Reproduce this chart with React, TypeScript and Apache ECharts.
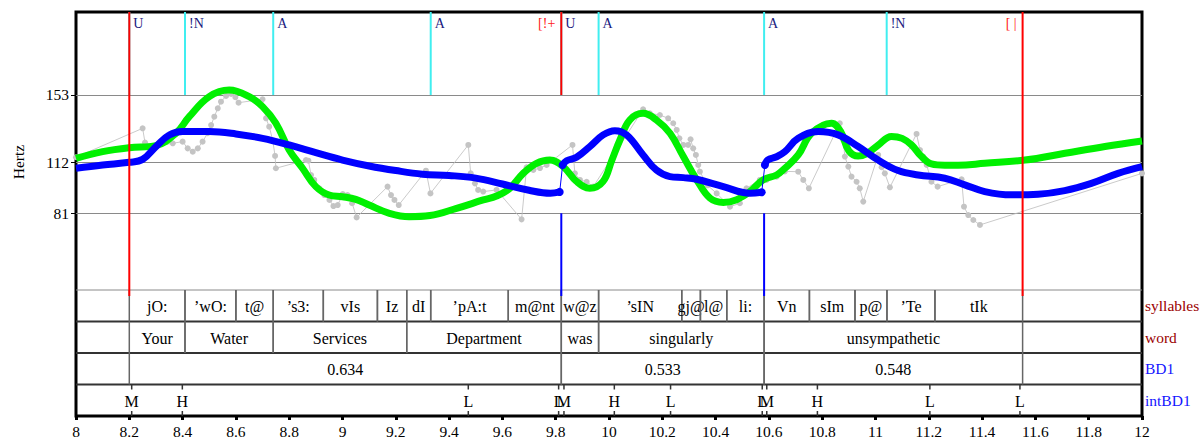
import React, { useEffect, useRef } from "react";
import * as echarts from "echarts";

// ---------- data ----------
const pitchTicks = [81, 112, 153];
const toneFloor = 153;

const toneTimes = [8.2, 8.409, 8.74, 9.331, 9.821, 9.961, 10.582, 11.042];
const toneLabels = ["U", "!N", "A", "A", "U", "A", "A", "!N"];

const boundaryTimes = [8.2, 9.821, 11.552];
const boundaryLabels = ["", "[!+", "[ |"];
const boundaryThrough = [true, false, true];

const breakTimes = [9.821, 10.582];
const breakFloor = 81;

const rawPitch: number[][] = [
  [8.0, 115.1], [8.25, 132.7], [8.259, 124.0], [8.3, 122.0], [8.363, 123.6], [8.4, 124.6],
  [8.419, 120.5], [8.438, 118.5], [8.457, 120.5], [8.475, 124.6], [8.494, 129.7], [8.507, 134.7],
  [8.519, 139.8], [8.532, 144.9], [8.544, 148.9], [8.563, 152.4], [8.582, 153.6], [8.598, 151.6],
  [8.61, 148.3], [8.7, 150.4], [8.713, 138.8], [8.725, 133.7], [8.738, 125.6], [8.747, 115.9],
  [8.75, 108.4], [8.863, 113.4], [8.872, 113.0], [8.882, 104.3], [8.894, 101.3], [8.913, 96.2],
  [8.932, 92.1], [8.951, 89.1], [8.966, 85.4], [8.982, 86.0], [9.001, 92.7], [9.019, 92.1],
  [9.036, 87.1], [9.053, 78.5], [9.169, 97.2], [9.182, 92.1], [9.195, 89.1], [9.211, 86.0],
  [9.313, 106.9], [9.33, 93.1], [9.472, 122.6], [9.481, 105.3], [9.497, 99.2], [9.509, 95.2],
  [9.528, 94.2], [9.578, 95.2], [9.672, 77.3], [9.691, 109.0], [9.716, 107.4], [9.741, 108.5],
  [9.766, 110.4], [9.863, 122.6], [9.872, 105.3], [9.891, 101.3], [9.916, 100.2], [9.941, 97.2],
  [10.128, 144.3], [10.153, 141.8], [10.191, 140.8], [10.222, 138.8], [10.241, 135.8], [10.254, 131.7],
  [10.264, 126.6], [10.279, 122.6], [10.297, 122.6], [10.306, 126.0], [10.316, 120.5], [10.326, 116.5],
  [10.335, 110.4], [10.341, 106.3], [10.37, 98.0], [10.404, 93.1], [10.454, 85.0], [10.491, 87.1],
  [10.516, 96.2], [10.566, 101.3], [10.591, 101.3], [10.629, 103.3], [10.66, 106.5], [10.71, 106.3],
  [10.729, 101.3], [10.75, 96.2], [10.866, 135.8], [10.879, 125.6], [10.885, 115.5], [10.898, 109.4],
  [10.91, 103.3], [10.929, 100.2], [10.941, 96.2], [10.954, 88.1], [11.01, 116.5], [11.023, 109.0],
  [11.035, 105.3], [11.054, 96.8], [11.154, 129.3], [11.167, 119.5], [11.179, 115.5], [11.192, 110.4],
  [11.21, 100.2], [11.233, 97.2], [11.323, 101.7], [11.332, 85.0], [11.348, 79.9], [11.367, 76.9],
  [11.392, 73.9], [12.0, 105.3],
];

const smoothPitch: number[][] = [
  [8.0, 114.4], [8.1, 118.5], [8.2, 120.9], [8.3, 122.2], [8.375, 129.7], [8.425, 139.8],
  [8.5, 152.0], [8.575, 156.0], [8.65, 152.0], [8.7, 145.9], [8.75, 135.8], [8.8, 119.5],
  [8.85, 108.4], [8.9, 97.2], [8.95, 92.1], [9.0, 91.1], [9.05, 89.5], [9.1, 86.0],
  [9.176, 81.0], [9.25, 78.9], [9.328, 79.6], [9.428, 84.0], [9.528, 89.1], [9.578, 91.5],
  [9.628, 96.2], [9.678, 105.3], [9.728, 111.4], [9.778, 113.4], [9.828, 109.4], [9.878, 100.4],
  [9.928, 96.2], [9.978, 100.4], [10.01, 113.0], [10.041, 125.6], [10.078, 137.8], [10.128, 141.8],
  [10.178, 137.8], [10.229, 129.7], [10.279, 115.5], [10.329, 101.4], [10.379, 90.2], [10.429, 87.6],
  [10.479, 89.3], [10.529, 94.2], [10.579, 101.4], [10.629, 104.3], [10.66, 108.4], [10.71, 116.5],
  [10.76, 129.7], [10.835, 135.8], [10.87, 130.5], [10.9, 119.0], [10.935, 115.9], [10.97, 117.5],
  [11.01, 122.5], [11.06, 127.8], [11.1, 126.6], [11.135, 122.6], [11.17, 116.0], [11.21, 111.0],
  [11.26, 110.2], [11.31, 110.2], [11.41, 111.4], [11.561, 113.4], [11.711, 117.5], [11.861, 121.6],
  [12.0, 125.0],
];

const modelSeg1: number[][] = [
  [8.0, 108.4], [8.1, 110.4], [8.2, 112.0], [8.25, 113.8], [8.3, 121.6], [8.35, 128.6],
  [8.4, 130.7], [8.5, 130.7], [8.6, 129.3], [8.7, 126.6], [8.8, 122.6], [8.9, 117.9],
  [9.0, 113.4], [9.1, 109.8], [9.2, 107.0], [9.3, 104.8], [9.4, 104.0], [9.5, 102.4],
  [9.6, 98.8], [9.7, 95.0], [9.78, 93.2], [9.815, 94.0],
];
const modelSeg2: number[][] = [
  [9.826, 110.4], [9.841, 113.0], [9.878, 115.1], [9.928, 121.6], [9.978, 128.7], [10.022, 131.3],
  [10.066, 128.7], [10.128, 116.5], [10.178, 107.3], [10.229, 103.3], [10.279, 102.7], [10.329, 101.7],
  [10.429, 97.2], [10.529, 93.2], [10.573, 93.8],
];
const modelSeg3: number[][] = [
  [10.585, 110.4], [10.595, 113.4], [10.629, 115.4], [10.66, 118.5], [10.71, 126.6], [10.785, 130.7],
  [10.86, 128.7], [10.935, 121.6], [11.01, 113.4], [11.085, 107.0], [11.16, 104.3], [11.26, 102.3],
  [11.335, 98.3], [11.41, 94.2], [11.51, 92.2], [11.61, 92.6], [11.71, 94.8], [11.81, 99.2],
  [11.91, 105.3], [12.0, 109.4],
];

const tierNames = ["syllables", "word", "BD1", "intBD1"];
const tierColors = ["#9b0000", "#9b0000", "#1414ff", "#1414ff"];

const syllableBounds = [8.2, 8.409, 8.6, 8.74, 8.928, 9.131, 9.241, 9.331, 9.622, 9.821, 9.961, 10.273, 10.343, 10.442, 10.582, 10.752, 10.923, 11.043, 11.223, 11.552];
const syllableLabels = ["jO:", "\u2019wO:", "t@", "\u2019s3:", "vIs", "Iz", "dI", "\u2019pA:t", "m@nt", "w@z", "\u2019sIN", "gj@", "l@", "li:", "Vn", "sIm", "p@", "\u2019Te", "tIk"];

const wordBounds = [8.2, 8.409, 8.74, 9.241, 9.821, 9.961, 10.582, 11.552];
const wordLabels = ["Your", "Water", "Services", "Department", "was", "singularly", "unsympathetic"];

const bd1Bounds = [8.2, 9.821, 10.582, 11.552];
const bd1Labels = ["0.634", "0.533", "0.548"];

const intTimes = [8.209, 8.399, 9.472, 9.811, 9.831, 10.02, 10.231, 10.575, 10.592, 10.782, 11.204, 11.542];
const intLabels = ["M", "H", "L", "L", "M", "H", "L", "L", "M", "H", "L", "L"];

// ---------- helpers ----------
const FONT = "Liberation Serif";
const intervalTiers = [
  { bounds: syllableBounds, labels: syllableLabels },
  { bounds: wordBounds, labels: wordLabels },
  { bounds: bd1Bounds, labels: bd1Labels },
];

function textEl(x: number, y: number, text: string, fill: string, size: number, align: string, valign: string) {
  return {
    type: "text",
    x,
    y,
    style: {
      text,
      fill,
      fontSize: size,
      fontFamily: FONT,
      align,
      verticalAlign: valign,
      textAlign: align,
      textVerticalAlign: valign,
    },
  };
}

function lineEl(x1: number, y1: number, x2: number, y2: number, stroke: string, w: number) {
  return { type: "line", shape: { x1, y1, x2, y2 }, style: { stroke, lineWidth: w } };
}

export default function App() {
  const ref = useRef<HTMLDivElement>(null);

  useEffect(() => {
    if (!ref.current) return;
    const chart = echarts.init(ref.current, null, { renderer: "svg" });

    const intervalData: number[][] = [];
    intervalTiers.forEach((tier, ti) => {
      for (let k = 0; k < tier.labels.length; k++) {
        intervalData.push([tier.bounds[k], tier.bounds[k + 1], ti, k]);
      }
    });

    const segs = [modelSeg1, modelSeg2, modelSeg3];
    const connectors = [] as number[][][];
    for (let i = 0; i < segs.length - 1; i++) {
      connectors.push([segs[i][segs[i].length - 1], segs[i + 1][0]]);
    }

    const option: any = {
      animation: false,
      backgroundColor: "#fff",
      textStyle: { fontFamily: FONT },
      grid: [
        { left: 76, right: 61, top: 12, bottom: 23, show: true, borderColor: "#000", borderWidth: 3, backgroundColor: "transparent" },
        { left: 76, right: 61, top: 12, height: 278 },
        { left: 76, right: 61, top: 290, bottom: 23 },
      ],
      xAxis: [
        {
          gridIndex: 0, type: "value", min: 8, max: 12, interval: 0.2,
          axisLine: { show: false },
          axisTick: { show: true, length: 4, lineStyle: { color: "#000", width: 3 } },
          axisLabel: { color: "#000", fontFamily: FONT, fontSize: 15.5, margin: 7, formatter: (v: number) => String(Math.round(v * 10) / 10) },
          splitLine: { show: false },
        },
        { gridIndex: 1, type: "value", min: 8, max: 12, show: false },
        { gridIndex: 2, type: "value", min: 8, max: 12, show: false },
      ],
      yAxis: [
        { gridIndex: 0, type: "value", min: 0, max: 1, show: false },
        {
          gridIndex: 1, type: "value", min: 34.3, max: 203.5,
          axisLine: { show: false },
          axisTick: { show: true, customValues: pitchTicks, length: 5, lineStyle: { color: "#000", width: 1 } },
          axisLabel: { customValues: pitchTicks, color: "#000", fontFamily: FONT, fontSize: 15.5, margin: 7 },
          splitLine: { show: false },
        },
        {
          gridIndex: 2, type: "category", inverse: true, position: "right",
          data: tierNames.map((n, i) => ({ value: n, textStyle: { color: tierColors[i] } })),
          axisLine: { show: false },
          axisTick: { show: false },
          axisLabel: { fontFamily: FONT, fontSize: 15.5, margin: 3 },
          splitLine: { show: false },
        },
      ],
      graphic: [
        {
          type: "text", x: 18, y: 162, rotation: Math.PI / 2,
          style: { text: "Hertz", fontSize: 15.5, fontFamily: FONT, fill: "#000", textAlign: "center", textVerticalAlign: "middle", align: "center", verticalAlign: "middle" },
        },
      ],
      series: [
        {
          name: "raw",
          type: "line",
          xAxisIndex: 1, yAxisIndex: 1,
          data: rawPitch,
          symbol: "circle", symbolSize: 6,
          itemStyle: { color: "#c4c4c4" },
          lineStyle: { color: "#bdbdbd", width: 0.8 },
          z: 2,
          markLine: {
            silent: true, symbol: ["none", "none"], label: { show: false },
            lineStyle: { color: "#8a8a8a", width: 1, type: "solid" },
            data: pitchTicks.map((v) => ({ yAxis: v })),
            z: 1,
          },
        },
        {
          name: "smooth",
          type: "line",
          xAxisIndex: 1, yAxisIndex: 1,
          data: smoothPitch, smooth: 0.4, symbol: "none",
          lineStyle: { color: "#00f000", width: 7 },
          z: 3,
        },
        ...segs.map((s, i) => ({
          name: "model" + i,
          type: "line",
          xAxisIndex: 1, yAxisIndex: 1,
          data: s, smooth: 0.4, symbol: "none",
          lineStyle: { color: "#0000ff", width: 7 },
          z: 4,
        })),
        ...connectors.map((c, i) => ({
          name: "jump" + i,
          type: "line",
          xAxisIndex: 1, yAxisIndex: 1,
          data: c, symbol: "circle", symbolSize: 8,
          itemStyle: { color: "#0000ff" },
          lineStyle: { color: "#0000ff", width: 1 },
          z: 5,
        })),
        {
          name: "tones",
          type: "custom",
          xAxisIndex: 1, yAxisIndex: 1,
          data: toneTimes.map((t, i) => [t, i]),
          z: 6,
          renderItem: (params: any, api: any) => {
            const cs = params.coordSys;
            const t = api.value(0);
            const i = api.value(1);
            const p = api.coord([t, toneFloor]);
            return {
              type: "group",
              children: [
                lineEl(p[0], cs.y, p[0], p[1], "#40eef0", 2),
                textEl(p[0] + 4, cs.y + 4, toneLabels[i], "#1a1a80", 14, "left", "top"),
              ],
            };
          },
        },
        {
          name: "boundaries",
          type: "custom",
          xAxisIndex: 1, yAxisIndex: 1,
          data: boundaryTimes.map((t, i) => [t, i]),
          z: 7,
          renderItem: (params: any, api: any) => {
            const cs = params.coordSys;
            const t = api.value(0);
            const i = api.value(1);
            const p = api.coord([t, toneFloor]);
            const yEnd = boundaryThrough[i] ? cs.y + cs.height + 6 : p[1];
            const children: any[] = [lineEl(p[0], cs.y, p[0], yEnd, "#ff0000", 2)];
            if (boundaryLabels[i]) children.push(textEl(p[0] - 6, cs.y + 4, boundaryLabels[i], "#ff2020", 14, "right", "top"));
            return { type: "group", children };
          },
        },
        {
          name: "breaks",
          type: "custom",
          xAxisIndex: 1, yAxisIndex: 1,
          data: breakTimes.map((t) => [t, breakFloor]),
          z: 7,
          renderItem: (params: any, api: any) => {
            const cs = params.coordSys;
            const p = api.coord([api.value(0), api.value(1)]);
            return lineEl(p[0], p[1], p[0], cs.y + cs.height + 6, "#0000ff", 2);
          },
        },
        {
          name: "tierLines",
          type: "custom",
          xAxisIndex: 2, yAxisIndex: 2,
          data: tierNames.map((_, i) => [8, i]),
          z: 3,
          renderItem: (params: any, api: any) => {
            const cs = params.coordSys;
            const i = api.value(1);
            const p = api.coord([8, i]);
            const h = api.size([0, 1])[1];
            const y = p[1] - h / 2;
            return i === 0
              ? lineEl(cs.x, y, cs.x + cs.width, y, "#8a8a8a", 1)
              : lineEl(cs.x, y, cs.x + cs.width, y, "#333", 2);
          },
        },
        {
          name: "intervals",
          type: "custom",
          xAxisIndex: 2, yAxisIndex: 2,
          data: intervalData,
          encode: { x: [0, 1], y: 2 },
          z: 4,
          renderItem: (params: any, api: any) => {
            const ti = api.value(2);
            const k = api.value(3);
            const a = api.coord([api.value(0), ti]);
            const b = api.coord([api.value(1), ti]);
            const h = api.size([0, 1])[1];
            const top = a[1] - h / 2;
            const bot = a[1] + h / 2;
            return {
              type: "group",
              children: [
                lineEl(a[0], top, a[0], bot, "#666", 1.5),
                lineEl(b[0], top, b[0], bot, "#666", 1.5),
                textEl((a[0] + b[0]) / 2, a[1] + 1, intervalTiers[ti].labels[k], "#000", 16, "center", "middle"),
              ],
            };
          },
        },
        {
          name: "intBD1",
          type: "custom",
          xAxisIndex: 2, yAxisIndex: 2,
          data: intTimes.map((t, k) => [t, 3, k]),
          z: 4,
          renderItem: (params: any, api: any) => {
            const k = api.value(2);
            const p = api.coord([api.value(0), api.value(1)]);
            const h = api.size([0, 1])[1];
            const top = p[1] - h / 2;
            const bot = p[1] + h / 2;
            return {
              type: "group",
              children: [
                lineEl(p[0], top, p[0], top + 5, "#333", 1.5),
                lineEl(p[0], bot - 5, p[0], bot, "#333", 1.5),
                textEl(p[0], p[1] + 1, intLabels[k], "#000", 16, "center", "middle"),
              ],
            };
          },
        },
      ],
    };

    chart.setOption(option);
    return () => chart.dispose();
  }, []);

  return (
    <div
      ref={ref}
      style={{ position: "fixed", left: 0, top: 0, width: 1203, height: 439, background: "#fff" }}
    />
  );
}
